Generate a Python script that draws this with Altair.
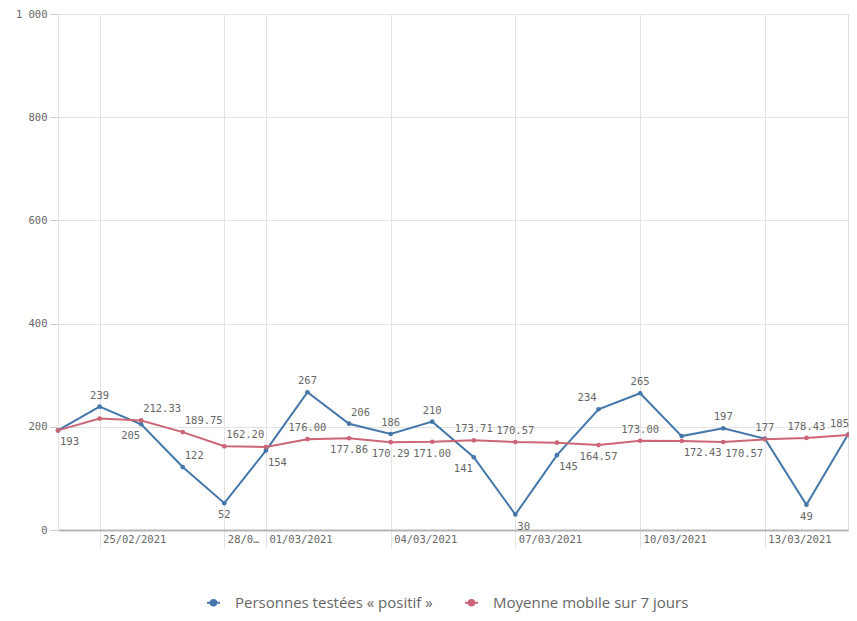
import altair as alt
import pandas as pd

# ---------------- data ----------------
dates = ["2021-02-24", "2021-02-25", "2021-02-26", "2021-02-27", "2021-02-28",
         "2021-03-01", "2021-03-02", "2021-03-03", "2021-03-04", "2021-03-05",
         "2021-03-06", "2021-03-07", "2021-03-08", "2021-03-09", "2021-03-10",
         "2021-03-11", "2021-03-12", "2021-03-13", "2021-03-14", "2021-03-15"]
positive = [193, 239, 205, 122, 52, 154, 267, 206, 186, 210,
            141, 30, 145, 234, 265, 182, 197, 177, 49, 185]
moving_avg = [193.00, 216.00, 212.33, 189.75, 162.20, 160.83, 176.00, 177.86, 170.29, 171.00,
              173.71, 170.57, 169.29, 164.57, 173.00, 172.43, 170.57, 175.71, 178.43, 184.14]
series_names = ["Personnes testées « positif »", "Moyenne mobile sur 7 jours"]
series_colors = ["#4477aa", "#cc6677"]
# label placement (as in the reference, where the tool avoided overlaps)
positive_label_pos = ["below-right", "above", "below-left", "above-right", "below", "below-right",
                      "above", "above-right", "above", "above", "below-left", "below-right",
                      "below-right", "above-left", "above", "none", "above", "above", "below",
                      "above-end"]
avg_label_pos = ["none", "none", "above-right", "above-right", "above-right", "none",
                 "above", "below", "below", "below", "above", "above", "none", "below",
                 "above", "below-right", "below-right", "none", "above", "none"]
tick_dates = ["2021-02-25", "2021-02-28", "2021-03-01", "2021-03-04",
              "2021-03-07", "2021-03-10", "2021-03-13"]
y_ticks = [0, 200, 400, 600, 800, 1000]

rows = []
for d, v, p in zip(dates, positive, positive_label_pos):
    rows.append({"date": d, "series": series_names[0], "value": v, "label": f"{v:d}", "pos": p})
for d, v, p in zip(dates, moving_avg, avg_label_pos):
    rows.append({"date": d, "series": series_names[1], "value": v, "label": f"{v:.2f}", "pos": p})
df = pd.DataFrame(rows)


def dt(s):
    y, m, d = (int(t) for t in s.split("-"))
    return alt.DateTime(year=y, month=m, date=d, utc=True)


GRID = "#e3e3e3"
TXT = "#666666"
MONO = "DejaVu Sans Mono"

x_enc = alt.X(
    "date:T",
    scale=alt.Scale(type="utc", domain=[dt(dates[0]), dt(dates[-1])], nice=False),
    axis=alt.Axis(
        title=None,
        values=[dt(t) for t in tick_dates],
        labelExpr="utcFormat(datum.value, '%d/%m') == '28/02' ? '28/0…' : utcFormat(datum.value, '%d/%m/%Y')",
        grid=True, gridColor=GRID,
        ticks=True, tickSize=18, tickColor=GRID,
        labelAlign="left", labelOffset=3, labelPadding=-14, labelBaseline="top",
        labelFont=MONO, labelFontSize=10.5, labelColor=TXT,
        domain=True, domainColor="#b5b5b5", domainWidth=2,
        labelOverlap=False,
    ),
)
y_enc = alt.Y(
    "value:Q",
    scale=alt.Scale(domain=[0, 1000], nice=False),
    axis=alt.Axis(
        title=None, values=y_ticks, format=",d",
        labelExpr="replace(datum.label, ',', ' ')",
        grid=True, gridColor=GRID,
        ticks=True, tickSize=8, tickColor="#cccccc",
        labelPadding=3, labelFont=MONO, labelFontSize=10.5, labelColor=TXT,
        domain=True, domainColor=GRID, domainWidth=1,
    ),
)

legend = alt.Legend(
    title=None, orient="none", direction="horizontal",
    legendX=148, legendY=581,
    symbolType="M-1,0L1,0M0.42,0A0.42,0.42,0,1,1,-0.42,0A0.42,0.42,0,1,1,0.42,0Z",
    symbolSize=169, symbolStrokeWidth=2,
    labelFont="Open Sans", labelFontSize=15, labelColor=TXT, labelLimit=0,
    labelOffset=14, columnPadding=28, padding=0,
)
stroke_scale = alt.Scale(domain=series_names, range=series_colors)

base = alt.Chart(df)

lines = base.mark_line(strokeWidth=2).encode(
    x=x_enc, y=y_enc,
    stroke=alt.Stroke("series:N", scale=stroke_scale, legend=legend),
)
points = base.mark_circle(size=22, opacity=1).encode(
    x=x_enc, y=y_enc,
    fill=alt.Fill("series:N", scale=stroke_scale, legend=legend),
    stroke=alt.Stroke("series:N", scale=stroke_scale, legend=legend),
    strokeWidth=alt.value(0),
)

placements = {
    "above": dict(align="center", dx=0, dy=-11),
    "below": dict(align="center", dx=0, dy=12),
    "above-right": dict(align="left", dx=2, dy=-11),
    "below-right": dict(align="left", dx=2, dy=12),
    "above-left": dict(align="right", dx=-2, dy=-11),
    "below-left": dict(align="right", dx=-1, dy=12),
    "above-end": dict(align="right", dx=1, dy=-11),
}
text_layers = []
for name, opts in placements.items():
    text_layers.append(
        base.transform_filter(alt.datum.pos == name)
        .mark_text(font=MONO, fontSize=10.5, color=TXT, baseline="middle", **opts)
        .encode(x=x_enc, y=y_enc, text="label:N")
    )

chart = alt.layer(lines, points, *text_layers).properties(
    width=790, height=516,
    autosize=alt.AutoSizeParams(type="none"),
    padding={"left": 50, "top": 6, "right": 1, "bottom": 83},
).configure_view(stroke=None).configure(background="white")

chart.save("out.html", embed_options={"renderer": "svg", "actions": False})
